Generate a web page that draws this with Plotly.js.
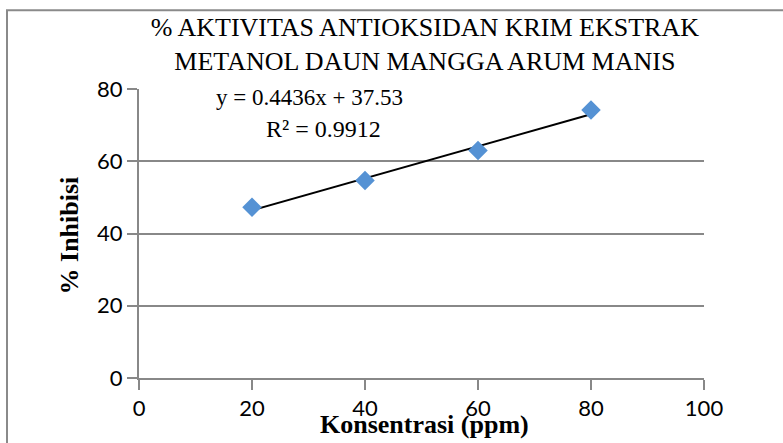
<!DOCTYPE html>
<html>
<head>
<meta charset="utf-8">
<script src="https://cdn.plot.ly/plotly-3.0.1.min.js"></script>
<style>
html,body{margin:0;padding:0;background:#fff;}
#chart{width:783px;height:443px;}
</style>
</head>
<body>
<div id="chart"></div>
<script>
// Data
const konsentrasi = [20, 40, 60, 80];
const inhibisi = [47.3, 54.7, 63.0, 74.2];
const slope = 0.4436;
const intercept = 37.53;
const rSquared = 0.9912;
const titleLines = ["% AKTIVITAS ANTIOKSIDAN KRIM EKSTRAK", "METANOL DAUN MANGGA ARUM MANIS"];
const xTitle = "Konsentrasi (ppm)";
const yTitle = "% Inhibisi";
const xTicks = [0, 20, 40, 60, 80, 100];
const yTicks = [0, 20, 40, 60, 80];

const trendX = [konsentrasi[0], konsentrasi[konsentrasi.length - 1]];
const trendY = trendX.map(x => slope * x + intercept);

const serif = "'Liberation Serif', 'Times New Roman', serif";
const sans = "Lato, 'Open Sans', sans-serif";
const gridCol = "#888888";

const traces = [
  {
    x: trendX, y: trendY, type: 'scatter', mode: 'lines',
    line: {color: '#000000', width: 2}, hoverinfo: 'skip', showlegend: false
  },
  {
    x: konsentrasi, y: inhibisi, type: 'scatter', mode: 'markers',
    marker: {symbol: 'diamond', size: 15, color: '#5592D4'}, showlegend: false
  }
];

const layout = {
  width: 783, height: 443,
  paper_bgcolor: '#ffffff', plot_bgcolor: '#ffffff',
  margin: {l: 139, r: 79, t: 89, b: 65},
  showlegend: false,
  title: {
    text: titleLines.join('<br>'),
    font: {family: serif, size: 26, color: '#000'},
    x: 0.506, xref: 'paper', xanchor: 'center',
    y: 1 - 36/443, yref: 'container', yanchor: 'top'
  },
  xaxis: {
    range: [0, 100], tickvals: xTicks, ticktext: xTicks.map(String),
    showgrid: false, zeroline: false,
    showline: true, linecolor: gridCol, linewidth: 2,
    ticks: 'outside', ticklen: 10, tickcolor: gridCol, tickwidth: 2,
    tickfont: {family: sans, size: 22, color: '#000'}
  },
  yaxis: {
    range: [0, 80], tickvals: yTicks, ticktext: yTicks.map(String),
    showgrid: true, gridcolor: gridCol, gridwidth: 2, zeroline: false,
    showline: true, linecolor: gridCol, linewidth: 2,
    ticks: 'outside', ticklen: 10, tickcolor: gridCol, tickwidth: 2,
    tickfont: {family: sans, size: 22, color: '#000'}
  },
  annotations: [
    {
      text: 'y = ' + slope + 'x + ' + intercept,
      x: 30.1, y: 77.6, xref: 'x', yref: 'y', showarrow: false,
      xanchor: 'center', yanchor: 'middle',
      font: {family: serif, size: 23, color: '#000'}
    },
    {
      text: 'R² = ' + rSquared,
      x: 32.6, y: 69.0, xref: 'x', yref: 'y', showarrow: false,
      xanchor: 'center', yanchor: 'middle',
      font: {family: serif, size: 24, color: '#000'}
    },
    {
      text: '<b>' + xTitle + '</b>',
      x: 0.506, xref: 'paper', y: -47/290, yref: 'paper',
      xanchor: 'center', yanchor: 'middle', showarrow: false,
      font: {family: serif, size: 26, color: '#000'}
    },
    {
      text: '<b>' + yTitle + '</b>',
      x: (69 - 139)/565, xref: 'paper', y: (378 - 235)/290, yref: 'paper',
      xanchor: 'center', yanchor: 'middle', showarrow: false, textangle: -90,
      font: {family: serif, size: 26, color: '#000'}
    }
  ],
  shapes: [
    {
      type: 'rect', xref: 'paper', yref: 'paper',
      x0: (7 - 139)/565, x1: 1.5, y0: -0.5, y1: (378 - 9)/290,
      line: {color: '#8a8a8a', width: 2}, fillcolor: 'rgba(0,0,0,0)', layer: 'below'
    }
  ]
};

Plotly.newPlot('chart', traces, layout, {displayModeBar: false, staticPlot: true});
</script>
</body>
</html>
